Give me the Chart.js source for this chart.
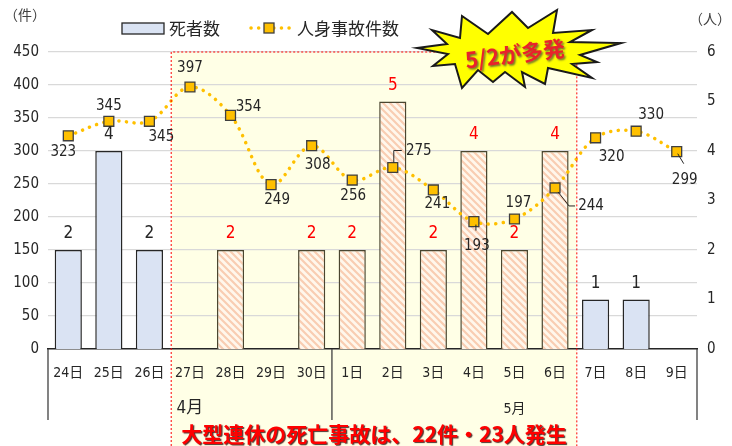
<!DOCTYPE html>
<html>
<head>
<meta charset="utf-8">
<script src="https://cdn.jsdelivr.net/npm/chart.js@4.4.1/dist/chart.umd.min.js"></script>
<style>
  html, body { margin: 0; padding: 0; background: #fff; }
  #wrap { width: 732px; height: 446px; }
</style>
</head>
<body>
<div id="wrap"><canvas id="myChart" width="732" height="446"></canvas></div>
<script>
// --- data ---
var days = ["24日", "25日", "26日", "27日", "28日", "29日", "30日", "1日", "2日", "3日", "4日", "5日", "6日", "7日", "8日", "9日"];
var deaths = [2, 4, 2, 0, 2, 0, 2, 2, 5, 2, 4, 2, 4, 1, 1, 0];
var accidents = [323, 345, 345, 397, 354, 249, 308, 256, 275, 241, 193, 197, 244, 320, 330, 299];
var monthNames = ["4月", "5月"];
var monthStart = [0, 7];           // index of first day in each month
var holidayFirst = 3, holidayLast = 12;   // 27日 .. 6日
var countTicks = [0, 450, 50];     // min, max, step (件)
var personTicks = [0, 6, 1];       // min, max, step (人)
var burstText = "5/2が多発";
var footText = "大型連休の死亡事故は、22件・23人発生";

// label placement for the line labels (dx, dy from the marker)
var lineLabelOffsets = [[-5,16],[0,-15],[12,16],[0,-19],[18,-8],[6,15],[6,19],[1,16],
                        [26,-16],[4,14],[3,24],[4,-16],[36,18],[16,19],[15,-16],[8,28]];
var leaders = { 8: [[1,-5],[1,-17],[9,-17]], 10: [[2,3],[2,9]],
                12: [[3,4],[14,18],[20,18]], 15: [[1,2],[7,12]] };

var NUM_FONT = '"Liberation Sans Narrow", "DejaVu Sans Condensed", "Noto Sans CJK JP", sans-serif';
var JP_FONT = '"Noto Sans CJK JP", sans-serif';
var TXT = "#262626";

function isHoliday(i) { return i >= holidayFirst && i <= holidayLast; }

// hatch pattern for the holiday bars
function makeHatch() {
  var s = 7;
  var c = document.createElement("canvas");
  c.width = s; c.height = s;
  var g = c.getContext("2d");
  g.fillStyle = "#FFF7EC";
  g.fillRect(0, 0, s, s);
  g.strokeStyle = "#F9CDB2";
  g.lineWidth = 2.2;
  g.beginPath();
  g.moveTo(-1, -1); g.lineTo(s + 1, s + 1);
  g.moveTo(-1, s - 1); g.lineTo(1, s + 1);
  g.moveTo(s - 1, -1); g.lineTo(s + 1, 1);
  g.stroke();
  return g.createPattern(c, "repeat");
}

var ctx = document.getElementById("myChart").getContext("2d");
var hatch = makeHatch();

var barFill = [], barBorder = [];
for (var i = 0; i < days.length; i++) {
  barFill.push(isHoliday(i) ? hatch : "#DAE3F3");
  barBorder.push(isHoliday(i) ? "#4A4630" : "#262626");
}

function holidayBox(chart) {
  var x = chart.scales.x;
  var half = (x.getPixelForValue(1) - x.getPixelForValue(0)) / 2;
  return {
    left: x.getPixelForValue(holidayFirst) - half + 1.5,
    right: x.getPixelForValue(holidayLast) + half + 1.5,
    top: chart.chartArea.top,
    bottom: chart.height
  };
}

var holidayPlugin = {
  id: "holiday",
  beforeDraw: function (chart) {
    var b = holidayBox(chart), c = chart.ctx;
    c.save();
    c.fillStyle = "#FFFFE6";
    c.fillRect(b.left, b.top, b.right - b.left, b.bottom - b.top);
    c.restore();
  },
  afterDatasetsDraw: function (chart) {
    var b = holidayBox(chart), c = chart.ctx;
    c.save();
    c.strokeStyle = "#FF0000";
    c.lineWidth = 1;
    c.setLineDash([2, 2]);
    c.beginPath();
    c.moveTo(b.left, b.bottom); c.lineTo(b.left, b.top);
    c.lineTo(b.right, b.top); c.lineTo(b.right, b.bottom);
    c.stroke();
    c.restore();
  }
};

var labelPlugin = {
  id: "labels",
  afterDatasetsDraw: function (chart) {
    var c = chart.ctx;
    var lineMeta = chart.getDatasetMeta(0);
    var barMeta = chart.getDatasetMeta(1);
    c.save();
    c.textAlign = "center";
    c.textBaseline = "middle";

    // death counts above bars
    c.font = "17px " + NUM_FONT;
    barMeta.data.forEach(function (bar, i) {
      if (!deaths[i]) return;
      c.fillStyle = isHoliday(i) ? "#FF0000" : TXT;
      c.fillText(String(deaths[i]), bar.x, bar.y - 16);
    });

    // accident counts near markers
    c.font = "15px " + NUM_FONT;
    c.fillStyle = TXT;
    c.strokeStyle = TXT;
    c.lineWidth = 1;
    lineMeta.data.forEach(function (pt, i) {
      var o = lineLabelOffsets[i];
      c.fillText(String(accidents[i]), pt.x + o[0], pt.y + o[1]);
      var l = leaders[i];
      if (l) {
        c.beginPath();
        c.moveTo(pt.x + l[0][0], pt.y + l[0][1]);
        for (var k = 1; k < l.length; k++) c.lineTo(pt.x + l[k][0], pt.y + l[k][1]);
        c.stroke();
      }
    });
    c.restore();
  }
};

var axisPlugin = {
  id: "monthAxis",
  afterDraw: function (chart) {
    var c = chart.ctx, x = chart.scales.x, area = chart.chartArea;
    var half = (x.getPixelForValue(1) - x.getPixelForValue(0)) / 2;
    c.save();
    c.strokeStyle = "#404040";
    c.lineWidth = 1.3;
    var sep = [area.left, x.getPixelForValue(monthStart[1]) - half, area.right];
    sep.forEach(function (sx) {
      c.beginPath();
      c.moveTo(sx, area.bottom);
      c.lineTo(sx, area.bottom + 71);
      c.stroke();
    });
    c.fillStyle = TXT;
    c.textAlign = "center";
    c.textBaseline = "middle";
    for (var m = 0; m < monthNames.length; m++) {
      var first = monthStart[m];
      var last = m + 1 < monthStart.length ? monthStart[m + 1] - 1 : days.length - 1;
      var cx = (x.getPixelForValue(first) + x.getPixelForValue(last)) / 2;
      c.font = (m === 0 ? "17px " : "14px ") + NUM_FONT;
      c.fillText(monthNames[m], cx, area.bottom + 60);
    }

    // unit labels
    c.font = "14px " + JP_FONT;
    c.fillStyle = "#404040";
    c.fillText("（件）", 25, 15);
    c.fillText("（人）", 710, 19);

    // legend
    c.fillStyle = "#DAE3F3";
    c.strokeStyle = "#262626";
    c.lineWidth = 1.3;
    c.fillRect(122, 23, 42, 11);
    c.strokeRect(122, 23, 42, 11);
    c.textAlign = "left";
    c.font = "17px " + JP_FONT;
    c.fillStyle = TXT;
    c.fillText(chart.data.datasets[1].label, 169, 29);

    c.strokeStyle = "#FFC000";
    c.lineWidth = 3.5;
    c.lineCap = "round";
    c.setLineDash([0.1, 7.5]);
    c.beginPath();
    c.moveTo(251, 28); c.lineTo(291, 28);
    c.stroke();
    c.setLineDash([]);
    c.fillStyle = "#FFC000";
    c.strokeStyle = "#3F3F3F";
    c.lineWidth = 1.3;
    c.fillRect(264, 23, 10, 10);
    c.strokeRect(264, 23, 10, 10);
    c.fillStyle = TXT;
    c.fillText(chart.data.datasets[0].label, 297, 29);

    // starburst callout
    var burst = [[-101,-2],[-71,-6],[-86,-20],[-58,-12],[-56,-34],[-30,-16],[-6,-38],[10,-22],
                 [39,-40],[35,-17],[74,-20],[52,-8],[103,-7],[62,5],[79,12],[54,14],[74,28],
                 [30,18],[27,34],[4,22],[7,37],[-13,22],[-25,32],[-40,20],[-56,38],[-63,14],
                 [-85,16],[-70,4]];
    var bx = 518, by = 50;
    c.beginPath();
    burst.forEach(function (p, k) {
      if (k === 0) c.moveTo(bx + p[0], by + p[1]); else c.lineTo(bx + p[0], by + p[1]);
    });
    c.closePath();
    c.fillStyle = "#FFFF00";
    c.fill();
    c.strokeStyle = "#1A1A1A";
    c.lineWidth = 2;
    c.lineJoin = "miter";
    c.stroke();

    c.save();
    c.translate(515, 54);
    c.rotate(-7 * Math.PI / 180);
    c.textAlign = "center";
    c.font = "bold 22px " + JP_FONT;
    c.shadowColor = "rgba(60,60,60,0.7)";
    c.shadowOffsetX = 1.5; c.shadowOffsetY = 1.5; c.shadowBlur = 2;
    c.fillStyle = "#E8232B";
    c.fillText(burstText, 0, 0);
    c.restore();

    // footer
    c.save();
    c.textAlign = "center";
    c.font = "bold 21px " + JP_FONT;
    c.shadowColor = "rgba(40,0,0,0.8)";
    c.shadowOffsetX = 1.2; c.shadowOffsetY = 1.2; c.shadowBlur = 1;
    c.fillStyle = "#FF0000";
    c.fillText(footText, 374, 434);
    c.restore();

    c.restore();
  }
};

var tickFont = { size: 14, family: NUM_FONT };

var chart = new Chart(ctx, {
  type: "bar",
  data: {
    labels: days,
    datasets: [
      {
        type: "line",
        label: "人身事故件数",
        data: accidents,
        yAxisID: "y",
        order: 0,
        borderColor: "#FFC000",
        borderWidth: 3.5,
        borderDash: [0.1, 7.5],
        borderCapStyle: "round",
        tension: 0.35,
        fill: false,
        pointStyle: "rect",
        pointRadius: 7,
        pointBackgroundColor: "#FFC000",
        pointBorderColor: "#3F3F3F",
        pointBorderWidth: 1.3
      },
      {
        type: "bar",
        label: "死者数",
        data: deaths,
        yAxisID: "y1",
        order: 1,
        backgroundColor: barFill,
        borderColor: barBorder,
        borderWidth: 1.5,
        categoryPercentage: 1,
        barPercentage: 0.67
      }
    ]
  },
  options: {
    responsive: false,
    animation: false,
    layout: { padding: { top: 52, left: 0, right: 0, bottom: 0 } },
    plugins: { legend: { display: false }, tooltip: { enabled: false } },
    scales: {
      x: {
        grid: { display: false, drawTicks: false },
        border: { display: true, color: "#262626", width: 1.6 },
        ticks: { padding: 16, color: TXT, font: tickFont, maxRotation: 0, autoSkip: false },
        afterFit: function (s) { s.height = 97; }
      },
      y: {
        position: "left",
        min: countTicks[0], max: countTicks[1],
        ticks: { stepSize: countTicks[2], padding: 9, color: TXT, font: { size: 15, family: NUM_FONT } },
        grid: { color: "#D9D9D9", lineWidth: 1.2, drawTicks: false },
        border: { display: false },
        afterFit: function (s) { s.width = 48; }
      },
      y1: {
        position: "right",
        min: personTicks[0], max: personTicks[1],
        ticks: { stepSize: personTicks[2], padding: 10, color: TXT, font: { size: 15, family: NUM_FONT } },
        grid: { display: false, drawTicks: false },
        border: { display: false },
        afterFit: function (s) { s.width = 35; }
      }
    }
  },
  plugins: [holidayPlugin, labelPlugin, axisPlugin]
});
</script>
</body>
</html>
